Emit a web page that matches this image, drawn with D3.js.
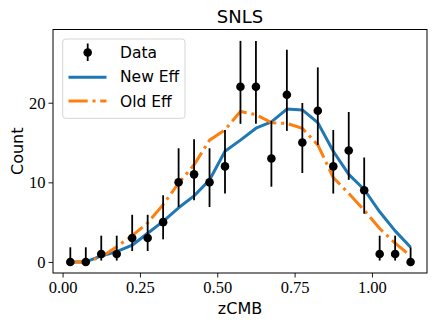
<!DOCTYPE html>
<html>
<head>
<meta charset="utf-8">
<script src="https://cdn.jsdelivr.net/npm/d3@7"></script>
<style>
  body { margin: 0; background: #fff; }
  svg { display: block; }
</style>
</head>
<body>
<div id="chart"></div>
<script>
// bin centres (zCMB) and counts
var zBins = [0.025, 0.075, 0.125, 0.175, 0.225, 0.275, 0.325, 0.375, 0.425, 0.475, 0.525, 0.575,
             0.625, 0.675, 0.725, 0.775, 0.825, 0.875, 0.925, 0.975, 1.025, 1.075, 1.125];
var counts = [0, 0, 1, 1, 3, 3, 5, 10, 11, 10, 12, 22, 22, 13, 21, 15, 19, 12, 14, 9, 1, 1, 0];
// error bar ends (asymmetric)
var errLow = [0, 0, 0.17, 0.17, 1.37, 1.37, 2.84, 6.9, 7.74, 6.9, 8.59, 17.35, 17.35, 9.45, 16.46,
              11.17, 14.68, 8.59, 10.31, 6.06, 0.17, 0.17, 0];
var errHigh = [1.84, 1.84, 3.3, 3.3, 5.92, 5.92, 8.38, 14.28, 15.42, 14.28, 16.57, 27.77, 27.77, 17.71,
               26.66, 19.97, 24.44, 16.57, 18.84, 13.12, 3.3, 3.3, 1.84];
var newEff = [0, 0, 0.75, 1.3, 2.1, 3.6, 5.1, 6.8, 8.3, 10.3, 13.9, 15.3, 16.8, 17.6, 19.2, 19.1,
              17.5, 13.9, 11.0, 9.1, 6.3, 3.9, 1.85];
var oldEff = [0, 0, 0.6, 1.9, 3.3, 4.9, 7.2, 9.9, 12.2, 15.3, 16.6, 18.9, 18.5, 17.5, 17.4, 16.8,
              14.7, 10.6, 8.6, 6.5, 4.2, 2.35, 0.75];
var xTicks = [0, 0.25, 0.5, 0.75, 1.0];
var yTicks = [0, 10, 20];

(function() {
    var width = 436, height = 325;
    var plotLeft = 53, plotRight = 427, plotTop = 29.5, plotBottom = 273;

    var svg = d3.select('#chart').append('svg')
        .attr('width', width)
        .attr('height', height);

    var x = d3.scaleLinear().domain([-0.031, 1.178]).range([plotLeft, plotRight]);
    var y = d3.scaleLinear().domain([-1.39, 29.2]).range([plotBottom, plotTop]);

    var rows = zBins.map(function(z, i) {
        return { z: z, n: counts[i], lo: errLow[i], hi: errHigh[i], nw: newEff[i], od: oldEff[i] };
    });

    // model lines
    var lineNew = d3.line().x(function(d) { return x(d.z); }).y(function(d) { return y(d.nw); });
    var lineOld = d3.line().x(function(d) { return x(d.z); }).y(function(d) { return y(d.od); });

    svg.append('path')
        .datum(rows)
        .attr('d', lineNew)
        .attr('fill', 'none')
        .attr('stroke', '#1f77b4')
        .attr('stroke-width', 3)
        .attr('stroke-linejoin', 'round');

    svg.append('path')
        .datum(rows)
        .attr('d', lineOld)
        .attr('fill', 'none')
        .attr('stroke', '#ff7f0e')
        .attr('stroke-width', 3)
        .attr('stroke-dasharray', '19.2,4.8,3,4.8');

    // data with error bars
    svg.selectAll('.err')
        .data(rows)
        .enter()
        .append('line')
        .attr('class', 'err')
        .attr('x1', function(d) { return x(d.z); })
        .attr('x2', function(d) { return x(d.z); })
        .attr('y1', function(d) { return y(d.lo); })
        .attr('y2', function(d) { return y(d.hi); })
        .attr('stroke', '#000')
        .attr('stroke-width', 1.8);

    svg.selectAll('.dot')
        .data(rows)
        .enter()
        .append('circle')
        .attr('class', 'dot')
        .attr('cx', function(d) { return x(d.z); })
        .attr('cy', function(d) { return y(d.n); })
        .attr('r', 4.3)
        .attr('fill', '#000');

    // axes
    var serif = '"Liberation Serif", "DejaVu Serif", serif';
    var xAxis = svg.append('g')
        .attr('transform', 'translate(0,' + plotBottom + ')')
        .call(d3.axisBottom(x).tickValues(xTicks).tickFormat(d3.format('.2f')).tickSizeOuter(0).tickSize(4.5).tickPadding(4));
    var yAxis = svg.append('g')
        .attr('transform', 'translate(' + plotLeft + ',0)')
        .call(d3.axisLeft(y).tickValues(yTicks).tickSizeOuter(0).tickSize(4.5).tickPadding(3));

    [xAxis, yAxis].forEach(function(g) {
        g.select('.domain').remove();
        g.selectAll('line').attr('stroke', '#000').attr('stroke-width', 0.9);
        g.selectAll('text')
            .style('font-family', serif)
            .style('font-size', '16.5px')
            .attr('fill', '#000');
    });

    svg.append('rect')
        .attr('x', plotLeft)
        .attr('y', plotTop)
        .attr('width', plotRight - plotLeft)
        .attr('height', plotBottom - plotTop)
        .attr('fill', 'none')
        .attr('stroke', '#000')
        .attr('stroke-width', 1);

    // labels
    var sans = '"DejaVu Sans", sans-serif';
    svg.append('text')
        .attr('x', (plotLeft + plotRight) / 2)
        .attr('y', 23)
        .attr('text-anchor', 'middle')
        .style('font-family', sans)
        .style('font-size', '18px')
        .text('SNLS');

    svg.append('text')
        .attr('x', (plotLeft + plotRight) / 2)
        .attr('y', 314)
        .attr('text-anchor', 'middle')
        .style('font-family', sans)
        .style('font-size', '16px')
        .text('zCMB');

    svg.append('text')
        .attr('transform', 'translate(23,' + ((plotTop + plotBottom) / 2) + ') rotate(-90)')
        .attr('text-anchor', 'middle')
        .style('font-family', sans)
        .style('font-size', '16px')
        .text('Count');

    // legend
    var legend = svg.append('g');
    legend.append('rect')
        .attr('x', 62.7)
        .attr('y', 39)
        .attr('width', 122.3)
        .attr('height', 79.3)
        .attr('rx', 3)
        .attr('fill', '#fff')
        .attr('fill-opacity', 0.8)
        .attr('stroke', '#d5d5d5')
        .attr('stroke-width', 1);

    legend.append('line')
        .attr('x1', 87.7).attr('x2', 87.7)
        .attr('y1', 43.5).attr('y2', 61)
        .attr('stroke', '#000').attr('stroke-width', 1.8);
    legend.append('circle')
        .attr('cx', 87.7).attr('cy', 52.5).attr('r', 4.3).attr('fill', '#000');

    legend.append('line')
        .attr('x1', 68.5).attr('x2', 106.5)
        .attr('y1', 77.3).attr('y2', 77.3)
        .attr('stroke', '#1f77b4').attr('stroke-width', 3);
    legend.append('line')
        .attr('x1', 68.5).attr('x2', 106.5)
        .attr('y1', 101).attr('y2', 101)
        .attr('stroke', '#ff7f0e').attr('stroke-width', 3)
        .attr('stroke-dasharray', '19.2,4.8,3,4.8');

    var legendNames = ['Data', 'New Eff', 'Old Eff'];
    legend.selectAll('.lt')
        .data(legendNames)
        .enter()
        .append('text')
        .attr('class', 'lt')
        .attr('x', 120)
        .attr('y', function(d, i) { return 52.7 + i * 24.2; })
        .attr('dy', '0.36em')
        .style('font-family', sans)
        .style('font-size', '15.5px')
        .text(function(d) { return d; });
})();
</script>
</body>
</html>
